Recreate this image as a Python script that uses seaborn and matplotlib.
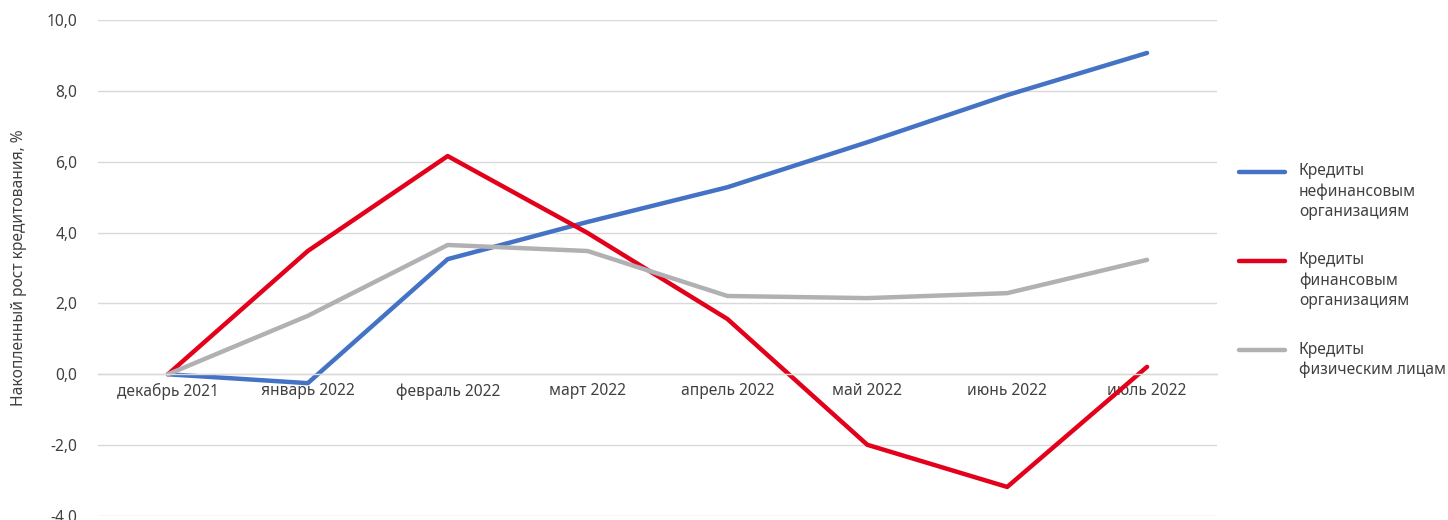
import matplotlib
matplotlib.use("Agg")
import matplotlib.pyplot as plt
import seaborn as sns
import pandas as pd
import numpy as np
from matplotlib.ticker import FuncFormatter, FixedLocator
from matplotlib.lines import Line2D
from matplotlib.legend_handler import HandlerLine2D

months = ["декабрь 2021", "январь 2022", "февраль 2022", "март 2022",
          "апрель 2022", "май 2022", "июнь 2022", "июль 2022"]
nonfin = [0.0, -0.25, 3.25, 4.3, 5.28, 6.55, 7.88, 9.07]
fin = [0.0, 3.48, 6.16, 3.99, 1.56, -1.99, -3.18, 0.21]
retail = [0.0, 1.65, 3.65, 3.48, 2.21, 2.15, 2.29, 3.23]
series_names = ["Кредиты\nнефинансовым\nорганизациям",
                "Кредиты\nфинансовым\nорганизациям",
                "Кредиты\nфизическим лицам"]
colors = ["#4472C4", "#E3001B", "#B1B1B4"]
y_label = "Накопленный рост кредитования, %"

sns.set_theme(style="white")
plt.rcParams['font.family'] = ['Noto Sans', 'DejaVu Sans']
TXT = "#404040"
FS = 11.2

rows = []
for name, vals in zip(series_names, [nonfin, fin, retail]):
    for i, v in enumerate(vals):
        rows.append({"x": i, "y": v, "s": name})
df = pd.DataFrame(rows)

W, H = 1448, 520
fig = plt.figure(figsize=(W/100, H/100), dpi=100)
ax = fig.add_axes([98/W, (H-516)/H, (1217-98)/W, (516-20)/H])

sns.lineplot(data=df, x="x", y="y", hue="s", palette=colors, hue_order=series_names,
             linewidth=3.2, ax=ax, legend=False, sort=False)

ax.set_xlim(-0.5, len(months)-0.5)
ax.set_ylim(-4, 10)
ax.set_yticks(np.arange(-4, 10.1, 2))
ax.yaxis.set_major_formatter(FuncFormatter(lambda v, p: f"{v:.1f}".replace(".", ",")))
ax.grid(axis="y", color="#D9D9D9", linewidth=1)
ax.set_axisbelow(True)
for s in ["top", "right", "left"]:
    ax.spines[s].set_visible(False)
ax.spines["bottom"].set_position(("data", 0))
ax.spines["bottom"].set_color("#D9D9D9")
ax.spines["bottom"].set_linewidth(1)

ax.set_xticks(range(len(months)))
ax.set_xticklabels(months)
ax.xaxis.set_minor_locator(FixedLocator(np.arange(-0.5, len(months), 1)))
ax.tick_params(axis="x", which="major", length=0, pad=6.5, labelsize=FS, labelcolor=TXT)
ax.tick_params(axis="x", which="minor", length=6, width=1, color="#D9D9D9", direction="out")
ax.tick_params(axis="y", length=0, pad=15, labelsize=FS, labelcolor=TXT)
ax.set_xlabel("")
ax.set_ylabel(y_label, fontsize=FS, color=TXT, labelpad=14)


class TopHandler(HandlerLine2D):
    def __init__(self, shift, **kw):
        super().__init__(**kw)
        self.shift = shift

    def create_artists(self, legend, orig_handle, xdescent, ydescent, width, height, fontsize, trans):
        arts = super().create_artists(legend, orig_handle, xdescent, ydescent, width, height, fontsize, trans)
        for a in arts:
            a.set_ydata(np.asarray(a.get_ydata()) + self.shift)
        return arts


LS = 1.33
line_h = FS * LS * 0.967
handles = [Line2D([], [], color=c, linewidth=3.2) for c in colors]
hmap = {}
for h, name in zip(handles, series_names):
    n = name.count("\n") + 1
    hmap[h] = TopHandler(shift=(n - 1) / 2 * line_h)
leg = fig.legend(handles, series_names, loc="upper left", bbox_to_anchor=(1225/W, 1-149/H),
                 frameon=False, fontsize=FS, handlelength=2.95, handletextpad=0.9,
                 labelspacing=2.1, labelcolor=TXT, handler_map=hmap)
for t in leg.get_texts():
    t.set_linespacing(LS)

fig.savefig("out.png", dpi=100)
